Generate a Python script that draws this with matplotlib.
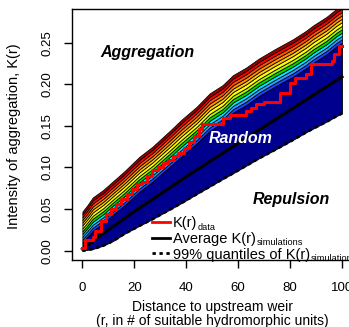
import matplotlib
matplotlib.use("Agg")
import matplotlib.pyplot as plt
from matplotlib.lines import Line2D
import numpy as np

plt.rcParams['font.family'] = ['Liberation Sans', 'DejaVu Sans']

# ---- data ----
env_r = [0, 2, 4, 8, 12, 16, 22, 27, 34, 38, 44, 49, 54, 58, 63, 68, 74, 81, 86, 89, 94, 98, 100]
env_top = [0.047, 0.055, 0.064, 0.073, 0.084, 0.095, 0.113, 0.125, 0.145, 0.157, 0.173, 0.189,
           0.199, 0.211, 0.220, 0.231, 0.242, 0.254, 0.264, 0.271, 0.281, 0.291, 0.295]
env_base = [0.010, 0.017, 0.024, 0.033, 0.044, 0.054, 0.071, 0.083, 0.102, 0.113, 0.129, 0.144,
            0.154, 0.166, 0.175, 0.186, 0.197, 0.209, 0.219, 0.226, 0.236, 0.246, 0.250]
env_low = [0.000, 0.001, 0.002, 0.006, 0.012, 0.020, 0.030, 0.038, 0.050, 0.057, 0.068, 0.077,
           0.086, 0.093, 0.102, 0.111, 0.121, 0.133, 0.142, 0.147, 0.155, 0.162, 0.165]

band_frac = [0.0, 0.09, 0.18, 0.27, 0.36, 0.45, 0.55, 0.64, 0.73, 0.82, 0.91, 1.0]
band_colors = ["#2040FF", "#3399FF", "#00E5FF", "#00D800", "#B0F000", "#FFFF00",
               "#FFC800", "#FF9000", "#FF5000", "#FF0000", "#990000"]
navy = "#00008F"

avg_r = [0, 10, 20, 30, 40, 50, 60, 70, 80, 90, 100]
avg_k = [0.002, 0.025, 0.047, 0.068, 0.089, 0.109, 0.129, 0.149, 0.169, 0.189, 0.209]

data_r = [0, 1, 4, 5, 7, 9, 11, 13, 15, 17, 19, 21, 23, 25, 27, 29, 31, 33, 35, 37, 39,
          41, 43, 45, 46, 54, 57, 63, 65, 67, 70, 76, 80, 82, 86, 88, 96, 97, 99, 100]
data_k = [0.003, 0.013, 0.016, 0.024, 0.036, 0.044, 0.050, 0.056, 0.062, 0.068, 0.074, 0.080,
          0.082, 0.090, 0.097, 0.100, 0.105, 0.109, 0.114, 0.118, 0.123, 0.131, 0.138, 0.146,
          0.152, 0.160, 0.163, 0.168, 0.172, 0.176, 0.179, 0.190, 0.202, 0.208, 0.212, 0.224,
          0.228, 0.236, 0.246, 0.246]

x_ticks = [0, 20, 40, 60, 80, 100]
y_ticks = [0.00, 0.05, 0.10, 0.15, 0.20, 0.25]

legend_main = ["K(r)", "Average K(r)", "99% quantiles of K(r)"]
legend_sub = ["data", "simulations", "simulations"]

# ---- figure ----
W, H = 349, 327
fig = plt.figure(figsize=(W / 100, H / 100), dpi=100)
ax = fig.add_axes([72 / W, 1 - 260 / H, (352.4 - 72) / W, (260 - 9) / H])

r = np.array(env_r)
top = np.array(env_top)
base = np.array(env_base)
low = np.array(env_low)
width = top - base

ax.fill_between(r, low, base, facecolor=navy, edgecolor='black', lw=0.6, zorder=1)
for i, c in enumerate(band_colors):
    lo = base + band_frac[i] * width
    hi = base + band_frac[i + 1] * width
    ax.fill_between(r, lo, hi, facecolor=c, edgecolor='black', lw=0.55, zorder=2)

ax.plot(r, low, color='black', lw=2, ls=(0, (1.2, 1.3)), zorder=3)
ax.plot(avg_r, avg_k, color='black', lw=2.2, zorder=4)
ax.plot(data_r, data_k, color='#FF0000', lw=2.2, drawstyle='steps-post', zorder=5)

ax.set_xlim(-4, 104)
ax.set_ylim(-0.0112, 0.2905)
ax.set_xticks(x_ticks)
ax.set_yticks(y_ticks)
ax.set_xticklabels([str(v) for v in x_ticks])
ax.set_yticklabels([f"{v:.2f}" for v in y_ticks])
ax.tick_params(axis='both', direction='out', length=6, width=1, labelsize=9.5, color='black')
ax.tick_params(axis='x', pad=10)
ax.tick_params(axis='y', pad=7, labelrotation=90)
for lab in ax.get_yticklabels():
    lab.set_va('center')
for s in ax.spines.values():
    s.set_linewidth(1)

ax.text(25, 0.238, "Aggregation", fontsize=11.5, fontweight='bold', fontstyle='italic',
        ha='center', va='center', color='black')
ax.text(61, 0.135, "Random", fontsize=11.5, fontweight='bold', fontstyle='italic',
        ha='center', va='center', color='white', zorder=6)
ax.text(80.4, 0.062, "Repulsion", fontsize=11.5, fontweight='bold', fontstyle='italic',
        ha='center', va='center', color='black')

handles = [Line2D([], [], color='#FF0000', lw=2),
           Line2D([], [], color='black', lw=2),
           Line2D([], [], color='black', lw=2, ls=(0, (1.2, 1.3)))]
leg = ax.legend(handles, legend_main, loc='upper left', bbox_to_anchor=(152 / W, 1 - 216 / H),
                bbox_transform=fig.transFigure, frameon=False, fontsize=10.5,
                handlelength=1.25, handletextpad=0.2, labelspacing=0.12,
                borderpad=0, borderaxespad=0)

fig.canvas.draw()
renderer = fig.canvas.get_renderer()
for t, sub in zip(leg.get_texts(), legend_sub):
    bb = t.get_window_extent(renderer)
    fig.text((bb.x1 + 0.5) / W, (bb.y0 + 0.5) / H, sub, fontsize=6.6,
             ha='left', va='baseline')

fig.text(212 / W, 1 - 313.5 / H, "Distance to upstream weir\n(r, in # of suitable hydromorphic units)",
         ha='center', va='center', fontsize=10, linespacing=1.0)
fig.text(14 / W, 1 - 136 / H, "Intensity of aggregation, K(r)", rotation=90,
         ha='center', va='center', fontsize=10.5)

fig.savefig("out.png", dpi=100)
